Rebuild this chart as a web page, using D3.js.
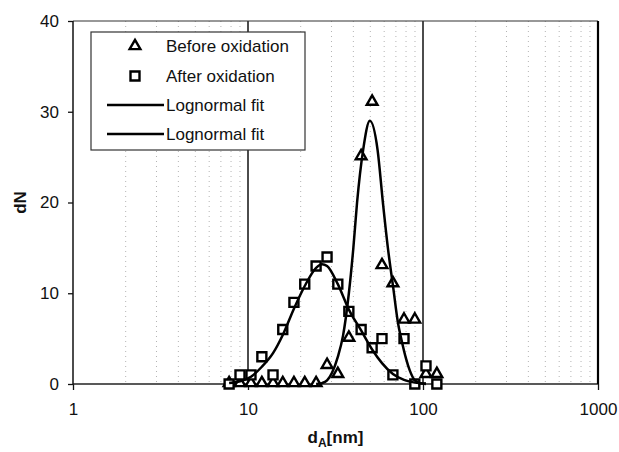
<!DOCTYPE html>
<html>
<head>
<meta charset="utf-8">
<script src="https://cdn.jsdelivr.net/npm/d3@7"></script>
<style>
  body { margin: 0; background: #fff; }
  svg { display: block; font-family: Arial, "Liberation Sans", sans-serif; }
</style>
</head>
<body>
<div id="chart"></div>
<script>
// measured points (size bins in nm, counts)
const beforeD = [7.8, 9.0, 10.4, 12.0, 13.9, 15.8, 18.3, 21.1, 24.5, 28.3, 32.6, 37.7, 44.3, 51.2, 58.3, 67.3, 77.9, 89.8, 104, 120]
const beforeN = [0, 0, 0, 0, 0, 0, 0, 0, 0, 2, 1, 5, 25, 31, 13, 11, 7, 7, 1, 1]

const afterD = [7.8, 9.0, 10.4, 12.0, 13.9, 15.8, 18.3, 21.1, 24.5, 28.3, 32.6, 37.7, 44.3, 51.2, 58.3, 67.3, 77.9, 89.8, 104, 120]
const afterN = [0, 1, 1, 3, 1, 6, 9, 11, 13, 14, 11, 8, 6, 4, 5, 1, 5, 0, 2, 0]

// lognormal fits
const fitBeforeD = [24.5, 26.5, 28.3, 30.3, 32.6, 34.9, 37.7, 40.0, 42.0, 45.5, 49.7, 55.0, 59.0, 63.0, 67.5, 72.0, 75.5, 80.0, 84.0, 89.8, 96.0, 104]
const fitBeforeN = [0, 0.1, 0.4, 1.3, 3.0, 5.3, 10.0, 15.0, 20.0, 25.8, 29.0, 25.8, 20.0, 15.0, 10.7, 6.7, 4.8, 2.8, 1.5, 0.4, 0.1, 0]

const fitAfterD = [7.8, 9.0, 10.4, 12.0, 13.9, 15.8, 18.3, 21.1, 24.5, 26.5, 28.3, 32.6, 37.7, 44.3, 51.2, 58.3, 67.3, 77.9, 89.8, 104]
const fitAfterN = [0.1, 0.3, 0.8, 1.9, 3.4, 5.4, 8.3, 10.8, 12.8, 13.2, 13.0, 11.0, 8.2, 5.9, 3.8, 2.3, 1.1, 0.45, 0.15, 0.05]

const xTicks = [1, 10, 100, 1000]
const yTicks = [0, 10, 20, 30, 40]
const legendLabels = ['Before oxidation', 'After oxidation', 'Lognormal fit', 'Lognormal fit']

class SizeChart {
  constructor (_config, parentElement) {
    this.config = {
      width: _config.width,
      height: _config.height,
      margin: {top: 21, right: 21, bottom: 68, left: 73},
      parentElement: parentElement
    }
    this.config.visWidth = this.config.width - this.config.margin.left - this.config.margin.right
    this.config.visHeight = this.config.height - this.config.margin.top - this.config.margin.bottom
    this.initVis()
  }

  initVis () {
    const vis = this
    const c = vis.config

    vis.svg = d3.select(c.parentElement).append('svg')
      .attr('width', c.width)
      .attr('height', c.height)

    vis.x = d3.scaleLog().domain([1, 1000]).range([0, c.visWidth])
    vis.y = d3.scaleLinear().domain([0, 40]).range([c.visHeight, 0])

    vis.g = vis.svg.append('g').attr('transform', `translate(${c.margin.left},${c.margin.top})`)

    vis.renderVis()
  }

  renderVis () {
    const vis = this
    const c = vis.config
    const x = vis.x, y = vis.y

    // minor dotted grid (faint)
    const minor = x.ticks().filter(d => !xTicks.includes(d))
    vis.g.selectAll('.minor').data(minor).join('line')
      .attr('class', 'minor')
      .attr('x1', d => x(d)).attr('x2', d => x(d))
      .attr('y1', 0).attr('y2', c.visHeight)
      .attr('stroke', '#b4b4b4').attr('stroke-width', 1)
      .attr('stroke-dasharray', '1,4')

    // major grid at 10 and 100
    vis.g.selectAll('.major').data([10, 100]).join('line')
      .attr('class', 'major')
      .attr('x1', d => x(d)).attr('x2', d => x(d))
      .attr('y1', 0).attr('y2', c.visHeight)
      .attr('stroke', '#111').attr('stroke-width', 1.5)

    // axes
    const xAxis = d3.axisBottom(x).tickValues(xTicks).tickFormat(d3.format('d')).tickSize(6).tickPadding(13)
    const yAxis = d3.axisLeft(y).tickValues(yTicks).tickSize(5).tickPadding(9)

    const gx = vis.g.append('g').attr('transform', `translate(0,${c.visHeight})`).call(xAxis)
    const gy = vis.g.append('g').call(yAxis)
    for (const ax of [gx, gy]) {
      ax.select('.domain').remove()
      ax.selectAll('line').attr('stroke', '#111').attr('stroke-width', 1.3)
      ax.selectAll('text').attr('font-size', 17).attr('fill', '#111')
        .attr('font-family', 'Arial, "Liberation Sans", sans-serif')
    }

    // frame
    vis.g.append('line').attr('x1', 0).attr('x2', c.visWidth).attr('y1', 0).attr('y2', 0)
      .attr('stroke', '#333').attr('stroke-width', 1.2)
    vis.g.append('line').attr('x1', 0).attr('x2', c.visWidth).attr('y1', c.visHeight).attr('y2', c.visHeight)
      .attr('stroke', '#222').attr('stroke-width', 1.5)
    vis.g.append('line').attr('x1', 0).attr('x2', 0).attr('y1', 0).attr('y2', c.visHeight)
      .attr('stroke', '#111').attr('stroke-width', 1.5)
    vis.g.append('line').attr('x1', c.visWidth).attr('x2', c.visWidth).attr('y1', 0).attr('y2', c.visHeight)
      .attr('stroke', '#000').attr('stroke-width', 2.2)

    // markers
    const tri = d3.symbol().type(d3.symbolTriangle).size(50)
    const sq = d3.symbol().type(d3.symbolSquare).size(81)

    vis.g.selectAll('.before').data(beforeD.map((d, i) => [d, beforeN[i]])).join('path')
      .attr('class', 'before')
      .attr('d', tri)
      .attr('transform', d => `translate(${x(d[0])},${y(d[1]) - 1})`)
      .attr('fill', '#fff').attr('stroke', '#000').attr('stroke-width', 2.4)

    vis.g.selectAll('.after').data(afterD.map((d, i) => [d, afterN[i]])).join('path')
      .attr('class', 'after')
      .attr('d', sq)
      .attr('transform', d => `translate(${x(d[0])},${y(d[1])})`)
      .attr('fill', '#fff').attr('stroke', '#000').attr('stroke-width', 2.4)

    // fit curves
    const line = d3.line().x(d => x(d[0])).y(d => y(d[1])).curve(d3.curveMonotoneX)
    vis.g.append('path').datum(fitAfterD.map((d, i) => [d, fitAfterN[i]]))
      .attr('d', line).attr('fill', 'none').attr('stroke', '#000').attr('stroke-width', 2.5)
    vis.g.append('path').datum(fitBeforeD.map((d, i) => [d, fitBeforeN[i]]))
      .attr('d', line).attr('fill', 'none').attr('stroke', '#000').attr('stroke-width', 2.5)

    // legend
    const lg = vis.svg.append('g')
    lg.append('rect').attr('x', 91).attr('y', 32).attr('width', 214).attr('height', 118)
      .attr('fill', '#fff').attr('stroke', '#333').attr('stroke-width', 1.2)
    const rowY = [46, 76, 105, 134]
    lg.selectAll('text').data(legendLabels).join('text')
      .attr('x', 166).attr('y', (d, i) => rowY[i]).attr('dy', '0.35em')
      .attr('font-size', 17).attr('fill', '#111').text(d => d)
    lg.append('path').attr('d', tri).attr('transform', `translate(135,${rowY[0]})`)
      .attr('fill', '#fff').attr('stroke', '#000').attr('stroke-width', 2.4)
    lg.append('path').attr('d', sq).attr('transform', `translate(135,${rowY[1]})`)
      .attr('fill', '#fff').attr('stroke', '#000').attr('stroke-width', 2.4)
    lg.selectAll('.lgline').data(rowY.slice(2)).join('line')
      .attr('class', 'lgline')
      .attr('x1', 107).attr('x2', 164).attr('y1', d => d).attr('y2', d => d)
      .attr('stroke', '#000').attr('stroke-width', 2.5)

    // axis titles
    const xt = vis.svg.append('text')
      .attr('x', c.margin.left + c.visWidth / 2).attr('y', 443)
      .attr('text-anchor', 'middle').attr('font-size', 17).attr('font-weight', 'bold').attr('fill', '#111')
    xt.append('tspan').text('d')
    xt.append('tspan').attr('font-size', 12).attr('dy', 4).text('A')
    xt.append('tspan').attr('dy', -4).text('[nm]')

    vis.svg.append('text')
      .attr('transform', `translate(26,${c.margin.top + c.visHeight / 2}) rotate(-90)`)
      .attr('text-anchor', 'middle').attr('font-size', 17).attr('font-weight', 'bold').attr('fill', '#111')
      .text('dN')
  }
}

new SizeChart({width: 619, height: 452}, '#chart')
</script>
</body>
</html>
